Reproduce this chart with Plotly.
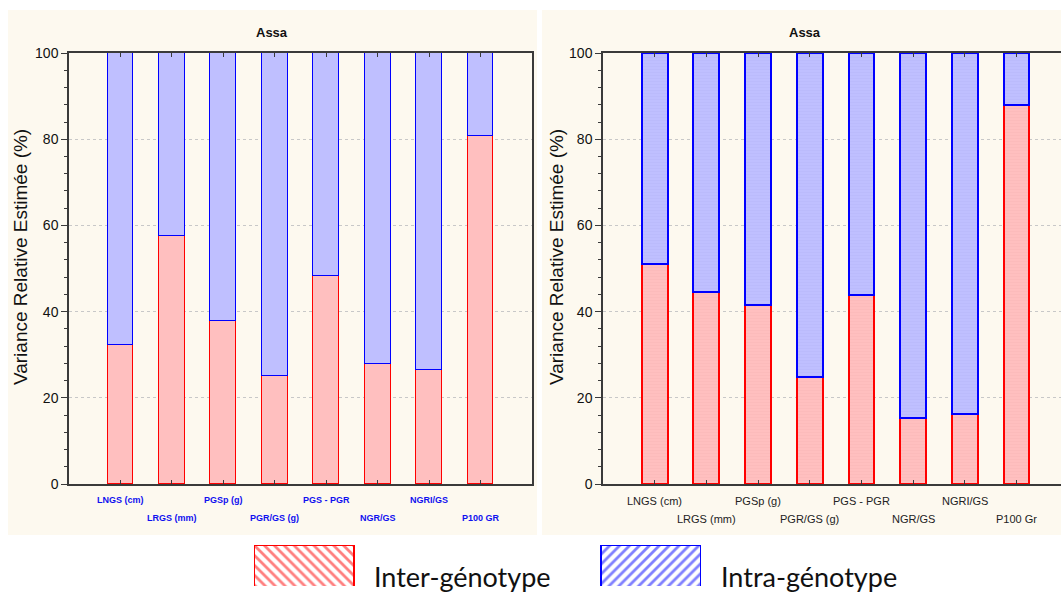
import plotly.graph_objects as go

# ---------------- data ----------------
labels_left = ["LNGS (cm)", "LRGS (mm)", "PGSp (g)", "PGR/GS (g)", "PGS - PGR", "NGR/GS", "NGRI/GS", "P100 GR"]
labels_right = ["LNGS (cm)", "LRGS (mm)", "PGSp (g)", "PGR/GS (g)", "PGS - PGR", "NGR/GS", "NGRI/GS", "P100 Gr"]
inter_left = [32.2, 57.5, 37.9, 25.1, 48.3, 27.9, 26.5, 80.7]
intra_left = [100 - v for v in inter_left]
inter_right = [51.0, 44.6, 41.6, 24.9, 43.9, 15.4, 16.3, 88.0]
intra_right = [100 - v for v in inter_right]
legend_names = ["Inter-génotype", "Intra-génotype"]
panel_titles = ["Assa", "Assa"]
y_title = "Variance Relative Estimée (%)"
y_ticks = [0, 20, 40, 60, 80, 100]

W, H = 1061, 594
def px(x):
    return x / W
def py(y):
    # vertical placement calibrated against the rendered page
    return 1 - (y - 7.9) / 578.1

RED_FILL = "#FFBFBF"
BLUE_FILL = "#BFBFFF"
RED = "#FF0000"
BLUE = "#0000FF"
CREAM = "#FDF9EF"
SANS = "Liberation Sans, Arial"

fig = go.Figure()

# left panel (solid)
fig.add_trace(go.Bar(x=labels_left, y=inter_left, width=0.5, xaxis="x", yaxis="y",
                     marker=dict(color=RED_FILL, line=dict(color=RED, width=1.5)), name=legend_names[0]))
fig.add_trace(go.Bar(x=labels_left, y=intra_left, width=0.5, xaxis="x", yaxis="y",
                     marker=dict(color=BLUE_FILL, line=dict(color=BLUE, width=1.5)), name=legend_names[1]))
# right panel (fine horizontal lines)
fig.add_trace(go.Bar(x=labels_right, y=inter_right, width=0.5, xaxis="x2", yaxis="y2",
                     marker=dict(color=RED_FILL, line=dict(color=RED, width=2),
                                 pattern=dict(shape="-", size=3, solidity=0.2, fgcolor="#F5B0B0", bgcolor=RED_FILL)),
                     name=legend_names[0]))
fig.add_trace(go.Bar(x=labels_right, y=intra_right, width=0.5, xaxis="x2", yaxis="y2",
                     marker=dict(color=BLUE_FILL, line=dict(color=BLUE, width=2),
                                 pattern=dict(shape="-", size=3, solidity=0.2, fgcolor="#B0B0F5", bgcolor=BLUE_FILL)),
                     name=legend_names[1]))
# legend boxes (bottom edge clipped like the reference)
fig.add_trace(go.Bar(x=[legend_names[0]], y=[1], width=0.288, xaxis="x3", yaxis="y3",
                     marker=dict(color="white", line=dict(color=RED, width=2),
                                 pattern=dict(shape="\\", size=7, solidity=0.4, fgcolor=RED, bgcolor="white"))))
fig.add_trace(go.Bar(x=[legend_names[1]], y=[1], width=0.288, xaxis="x3", yaxis="y3",
                     marker=dict(color="white", line=dict(color=BLUE, width=2),
                                 pattern=dict(shape="/", size=7, solidity=0.4, fgcolor=BLUE, bgcolor="white"))))

axis_line = dict(showline=True, linecolor="#3a3a3a", linewidth=1.5)

xcommon = dict(type="category", showgrid=False, showticklabels=False, ticks="inside",
               ticklen=4, tickcolor="#3a3a3a", mirror="allticks", zeroline=False, **axis_line)
ycommon = dict(range=[0, 100], tickvals=y_ticks, ticks="outside", ticklen=6, tickcolor="#3a3a3a",
               showgrid=True, gridcolor="#C8C8C8", griddash="dot", gridwidth=1, zeroline=False,
               tickfont=dict(family=SANS, size=14, color="#111"),
               minor=dict(dtick=4, ticks="outside", ticklen=3, tickcolor="#3a3a3a", showgrid=False),
               **axis_line)

fig.update_layout(
    width=W, height=H, margin=dict(l=0, r=0, t=0, b=0), autosize=False,
    paper_bgcolor="white", plot_bgcolor="white", showlegend=False, barmode="stack", bargap=0,
    xaxis=dict(domain=[px(69), px(532)], range=[-1, 8], **xcommon),
    yaxis=dict(domain=[py(484), py(53)], anchor="x", mirror=True, **ycommon),
    xaxis2=dict(domain=[px(603), 1.0], range=[-1, 7.86], anchor="y2", **xcommon),
    yaxis2=dict(domain=[py(484), py(53)], anchor="x2", **ycommon),
    xaxis3=dict(domain=[px(254), px(701)], range=[-0.144, 1.144], type="category",
                visible=False, anchor="y3"),
    yaxis3=dict(domain=[0, py(545)], range=[0.15, 1], visible=False, anchor="x3"),
)

shapes = [
    dict(type="rect", xref="paper", yref="paper", x0=px(8), x1=px(537), y0=py(535), y1=py(10),
         fillcolor=CREAM, line=dict(width=0), layer="below"),
    dict(type="rect", xref="paper", yref="paper", x0=px(542), x1=1.0, y0=py(535), y1=py(10),
         fillcolor=CREAM, line=dict(width=0), layer="below"),
]
fig.update_layout(shapes=shapes)

ann = []
# staggered x labels
for i, lab in enumerate(labels_left):
    ann.append(dict(x=lab, xref="x", y=py(500) if i % 2 == 0 else py(518), yref="paper",
                    text=lab, showarrow=False, xanchor="center", yanchor="middle",
                    font=dict(family=SANS, size=9, color="#1010F0", weight="bold")))
for i, lab in enumerate(labels_right):
    ann.append(dict(x=lab, xref="x2", y=py(501) if i % 2 == 0 else py(519), yref="paper",
                    text=lab, showarrow=False, xanchor="center", yanchor="middle",
                    font=dict(family=SANS, size=11, color="#222")))
# titles
for xc, t in zip([px(272), px(805)], panel_titles):
    ann.append(dict(x=xc, y=py(32), xref="paper", yref="paper", text=t, showarrow=False,
                    xanchor="center", yanchor="middle",
                    font=dict(family=SANS, size=13, color="#111", weight="bold")))
# y titles
for xc in [px(20), px(556)]:
    ann.append(dict(x=xc, y=py(257), xref="paper", yref="paper", text=y_title, showarrow=False,
                    textangle=-90, xanchor="center", yanchor="middle",
                    font=dict(family=SANS, size=19, color="#111")))
# legend labels
for name in legend_names:
    ann.append(dict(x=name, xref="x3", xshift=68, y=py(576), yref="paper", text=name, showarrow=False,
                    xanchor="left", yanchor="middle",
                    font=dict(family="Lato, Open Sans, sans-serif", size=27, color="#111")))
fig.update_layout(annotations=ann)

fig.write_html("out.html",
               post_script="document.body.style.margin='0';document.body.style.padding='0';"
                           "document.documentElement.style.overflow='hidden';")
